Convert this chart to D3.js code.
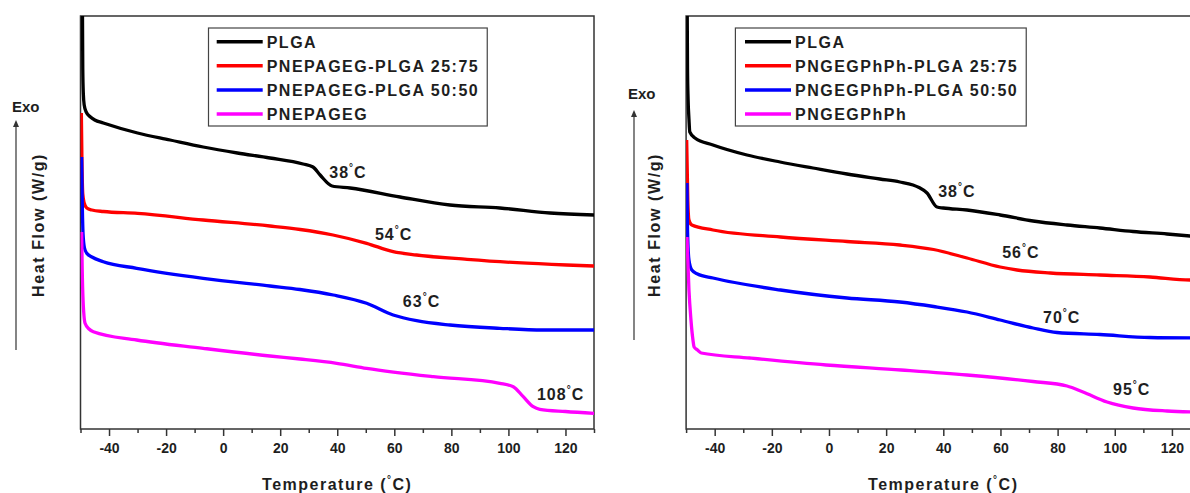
<!DOCTYPE html>
<html>
<head>
<meta charset="utf-8">
<script src="https://cdn.jsdelivr.net/npm/d3@7"></script>
<style>
  body { margin: 0; background: #fff; }
  svg { display: block; font-family: "Liberation Sans", Arial, sans-serif; font-weight: bold; }
</style>
</head>
<body>
<svg id="chart" width="1190" height="493"></svg>
<script>
// x axis ticks (°C)
const majorTicks = [-40, -20, 0, 20, 40, 60, 80, 100, 120];
const minorTicks = [-50, -30, -10, 10, 30, 50, 70, 90, 110, 130];
const colors = ["#000000", "#ff0000", "#0000ff", "#ff00ff"];

// left panel, [temperature °C, heat flow (arb. units)]
const plgaL = [[-49.3, 41.3], [-49.2, 36], [-49.0, 33.5], [-48.7, 32.4], [-48, 31.7], [-46.5, 31.2], [-45, 30.9],
  [-42, 30.6], [-30, 29.6], [-18.6, 28.9], [-7, 28.2], [5, 27.6], [16.4, 27.1], [28, 26.5], [31.5, 26.2],
  [34, 25.4], [38.2, 24.3], [44.5, 24.1], [62, 23.2], [79.5, 22.4], [97, 22.1], [114.6, 21.6], [130, 21.4]];
const nepa2575 = [[-49.7, 31.6], [-49.5, 27], [-49.2, 23.5], [-48.7, 22.6], [-47.8, 22.1], [-46, 21.9], [-42, 21.75],
  [-30, 21.57], [-7, 20.9], [16.4, 20.3], [27, 19.95], [38.5, 19.4], [50.3, 18.57], [59.6, 17.73], [67.8, 17.4],
  [85.5, 16.97], [103, 16.63], [120.4, 16.4], [130, 16.3]];
const nepa5050 = [[-49.6, 27.2], [-49.4, 23], [-49.1, 19.5], [-48.6, 18.1], [-47.8, 17.57], [-46, 17.2], [-42, 16.73],
  [-30.3, 16.07], [-7, 15.07], [16.4, 14.3], [26.9, 13.95], [38.6, 13.4], [50.3, 12.57], [59.6, 11.4], [67.8, 10.83],
  [79.5, 10.4], [97, 10.07], [112.2, 9.9], [130, 9.9]];
const pnepageg = [[-49.6, 19.7], [-49.4, 16], [-49.1, 12.9], [-48.4, 10.57], [-47, 10.0], [-45.5, 9.73], [-30.3, 8.9],
  [-7, 8.07], [16.4, 7.3], [26.9, 7.0], [39.8, 6.57], [50.3, 6.07], [73.7, 5.23], [97, 4.57], [101.7, 4.23],
  [105.2, 3.23], [108.7, 2.23], [111, 1.97], [120, 1.75], [130, 1.57]];
const namesL = ["PLGA", "PNEPAGEG-PLGA 25:75", "PNEPAGEG-PLGA 50:50", "PNEPAGEG"];
const tgL = [{ t: 37.2, v: 25.1, n: "38" }, { t: 53.2, v: 18.9, n: "54" }, { t: 63, v: 12.2, n: "63" }, { t: 110, v: 2.9, n: "108" }];

// right panel
const plgaR = [[-49.6, 41.3], [-49.5, 36], [-49.3, 33], [-49.0, 31], [-48.7, 29.7], [-46.9, 29.1], [-40.6, 28.4],
  [-28.7, 27.4], [-17.1, 26.7], [-5.6, 26.1], [6.3, 25.5], [17.8, 25.0], [24.8, 24.7], [29.4, 24.4], [31.5, 24.15],
  [34.3, 23.6], [37.8, 22.2], [40, 22.1], [48.3, 21.9], [59.9, 21.4], [71.4, 20.8], [83.3, 20.4], [94.8, 20.1],
  [106.4, 19.75], [118.3, 19.5], [126.4, 19.3], [130, 19.2]];
const ngeg2575 = [[-49.8, 28.9], [-49.4, 22.9], [-49, 20.9], [-48, 20.4], [-40.6, 19.9], [-17, 19.2], [6.3, 18.75],
  [24.8, 18.4], [36.6, 17.95], [48.3, 17.1], [59.9, 16.2], [65.8, 15.9], [77.4, 15.6], [94.8, 15.4],
  [112.3, 15.2], [126.4, 14.9], [130, 14.9]];
const ngeg5050 = [[-49.7, 24.6], [-49.5, 19.9], [-49, 16.9], [-48, 15.9], [-46, 15.5], [-40.6, 15.1], [-17, 13.9],
  [6.3, 13.1], [24.8, 12.7], [36.6, 12.25], [48.3, 11.7], [59.9, 10.9], [71.4, 10.1], [79.8, 9.65], [94.8, 9.45],
  [112.3, 9.15], [130, 9.1]];
const pngegphph = [[-49.7, 19.2], [-49, 13.9], [-48.3, 10.9], [-47.6, 8.9], [-47.2, 8.2], [-46, 7.9], [-44.7, 7.6],
  [-27.6, 7.1], [-1, 6.4], [25.2, 5.9], [48.3, 5.4], [71.4, 4.75], [83.3, 4.3], [88.9, 3.7], [97.3, 2.7],
  [106.4, 2.1], [118.3, 1.8], [130, 1.7]];
const namesR = ["PLGA", "PNGEGPhPh-PLGA 25:75", "PNGEGPhPh-PLGA 50:50", "PNGEGPhPh"];
const tgR = [{ t: 38.2, v: 23.2, n: "38" }, { t: 60.6, v: 17.1, n: "56" }, { t: 74.9, v: 10.6, n: "70" }, { t: 99.4, v: 3.4, n: "95" }];

const panels = [
  { id: "L", x0: 80.5, x1: 594, series: [plgaL, nepa2575, nepa5050, pnepageg], names: namesL, tg: tgL,
    legX: 208.5, lineX: 216.7, exo: [12, 112], arrowX: 16, arrowTop: 120, arrowBot: 350, ylabX: 38 },
  { id: "R", x0: 686.1, x1: 1200.5, series: [plgaR, ngeg2575, ngeg5050, pngegphph], names: namesR, tg: tgR,
    legX: 735.4, lineX: 745, exo: [628, 99], arrowX: 634, arrowTop: 110, arrowBot: 340, ylabX: 653.5 }
];

const plotTop = 16, plotBottom = 429;
const ink = "#1e1e1e";
const svg = d3.select("#chart");

panels.forEach(p => {
  const x = d3.scaleLinear().domain([-50, 130]).range([p.x0, p.x1]);
  const y = d3.scaleLinear().domain([0, 41.3]).range([plotBottom, plotTop]);

  svg.append("clipPath").attr("id", "clip" + p.id)
    .append("rect").attr("x", p.x0).attr("y", plotTop).attr("width", p.x1 - p.x0).attr("height", plotBottom - plotTop);

  // minor + major ticks
  const minor = svg.append("g").attr("transform", `translate(0,${plotBottom})`)
    .call(d3.axisBottom(x).tickValues(minorTicks).tickSize(4).tickFormat(""));
  const major = svg.append("g").attr("transform", `translate(0,${plotBottom})`)
    .call(d3.axisBottom(x).tickValues(majorTicks).tickSize(7).tickPadding(7).tickFormat(d => String(d)));
  [minor, major].forEach(g => {
    g.select(".domain").remove();
    g.selectAll("line").attr("stroke", "#333").attr("stroke-width", 1.5);
  });
  major.selectAll("text").attr("fill", ink).style("font-size", "14px").style("font-weight", "bold")
    .style("font-family", "'Liberation Sans', Arial, sans-serif");

  // frame
  svg.append("rect").attr("x", p.x0).attr("y", plotTop).attr("width", p.x1 - p.x0).attr("height", plotBottom - plotTop)
    .attr("fill", "none").attr("stroke", "#333").attr("stroke-width", 1.5);

  // curves
  const line = d3.line().x(d => x(d[0])).y(d => y(d[1])).curve(d3.curveMonotoneX);
  svg.append("g").attr("clip-path", `url(#clip${p.id})`)
    .selectAll("path").data(p.series).join("path")
    .attr("d", line)
    .attr("fill", "none")
    .attr("stroke", (d, i) => colors[i])
    .attr("stroke-width", 3.3)
    .attr("stroke-linejoin", "round");

  // Tg labels
  p.tg.forEach(a => {
    const t = svg.append("text").attr("x", x(a.t)).attr("y", y(a.v))
      .attr("fill", ink).style("font-size", "16px").style("letter-spacing", "1px");
    t.append("tspan").text(a.n);
    t.append("tspan").attr("dy", -7).style("font-size", "10px").text("°");
    t.append("tspan").attr("dy", 7).text("C");
  });

  // legend
  const legTop = 28, legBot = 126, rowH = 24.1;
  const leg = svg.append("g");
  const box = leg.append("rect").attr("x", p.legX).attr("y", legTop).attr("height", legBot - legTop)
    .attr("fill", "#fff").attr("stroke", "#444").attr("stroke-width", 1.2);
  let maxRight = 0;
  p.names.forEach((name, i) => {
    const cy = legTop + 13.7 + i * rowH;
    leg.append("line").attr("x1", p.lineX).attr("x2", p.lineX + 46).attr("y1", cy).attr("y2", cy)
      .attr("stroke", colors[i]).attr("stroke-width", 3.5);
    const tx = leg.append("text").attr("x", p.lineX + 50).attr("y", cy + 6)
      .attr("fill", ink).style("font-size", "16px").style("letter-spacing", "1.5px").text(name);
    maxRight = Math.max(maxRight, p.lineX + 50 + tx.node().getComputedTextLength());
  });
  box.attr("width", maxRight + 8 - p.legX);

  // axis titles
  const xt = svg.append("text").attr("x", (p.x0 + p.x1) / 2).attr("y", 490).attr("text-anchor", "middle")
    .attr("fill", ink).style("font-size", "16px").style("letter-spacing", "1.5px");
  xt.append("tspan").text("Temperature (");
  xt.append("tspan").attr("dy", -7).style("font-size", "10px").text("°");
  xt.append("tspan").attr("dy", 7).text("C)");

  svg.append("text").attr("transform", `translate(${p.ylabX + 6},225) rotate(-90)`)
    .attr("text-anchor", "middle").attr("fill", ink)
    .style("font-size", "16px").style("letter-spacing", "1.6px").text("Heat Flow (W/g)");

  // Exo arrow
  svg.append("text").attr("x", p.exo[0]).attr("y", p.exo[1]).attr("fill", ink)
    .style("font-size", "15px").text("Exo");
  svg.append("line").attr("x1", p.arrowX).attr("x2", p.arrowX).attr("y1", p.arrowBot).attr("y2", p.arrowTop + 4)
    .attr("stroke", "#333").attr("stroke-width", 1.2);
  svg.append("path")
    .attr("d", `M${p.arrowX - 3},${p.arrowTop + 7}L${p.arrowX},${p.arrowTop}L${p.arrowX + 3},${p.arrowTop + 7}Z`)
    .attr("fill", "#333");
});
</script>
</body>
</html>
